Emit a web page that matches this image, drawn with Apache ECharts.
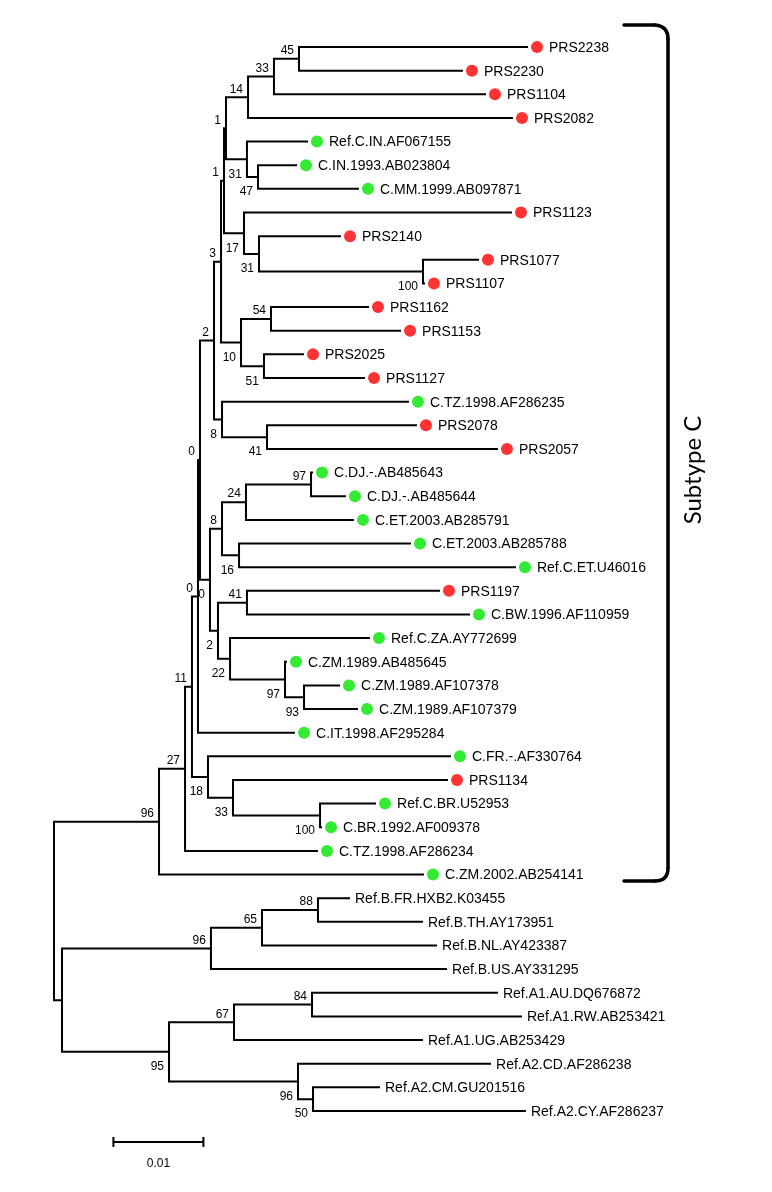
<!DOCTYPE html>
<html><head><meta charset="utf-8">
<script src="https://cdn.jsdelivr.net/npm/echarts@6/dist/echarts.min.js"></script>
<style>html,body{margin:0;padding:0;background:#fff}#c{width:772px;height:1192px}</style>
</head><body><div id="c"></div>
<script>
// ---- leaves (top to bottom) ----
const leafNames = [
 'PRS2238','PRS2230','PRS1104','PRS2082','Ref.C.IN.AF067155','C.IN.1993.AB023804','C.MM.1999.AB097871',
 'PRS1123','PRS2140','PRS1077','PRS1107','PRS1162','PRS1153','PRS2025','PRS1127','C.TZ.1998.AF286235',
 'PRS2078','PRS2057','C.DJ.-.AB485643','C.DJ.-.AB485644','C.ET.2003.AB285791','C.ET.2003.AB285788',
 'Ref.C.ET.U46016','PRS1197','C.BW.1996.AF110959','Ref.C.ZA.AY772699','C.ZM.1989.AB485645',
 'C.ZM.1989.AF107378','C.ZM.1989.AF107379','C.IT.1998.AF295284','C.FR.-.AF330764','PRS1134',
 'Ref.C.BR.U52953','C.BR.1992.AF009378','C.TZ.1998.AF286234','C.ZM.2002.AB254141',
 'Ref.B.FR.HXB2.K03455','Ref.B.TH.AY173951','Ref.B.NL.AY423387','Ref.B.US.AY331295',
 'Ref.A1.AU.DQ676872','Ref.A1.RW.AB253421','Ref.A1.UG.AB253429','Ref.A2.CD.AF286238',
 'Ref.A2.CM.GU201516','Ref.A2.CY.AF286237'
];
// distance from root (substitutions per site)
const leafDepth = [
 0.05267,0.04544,0.04800,0.05100,0.02822,0.02700,0.03389,
 0.05089,0.03189,0.04722,0.04122,0.03500,0.03856,0.02778,0.03456,0.03944,
 0.04033,0.04933,0.02878,0.03244,0.03333,0.03967,
 0.05133,0.04289,0.04622,0.03511,0.02589,
 0.03178,0.03378,0.02678,0.04411,0.04378,
 0.03578,0.02978,0.02933,0.04111,
 0.03289,0.04100,0.04256,0.04367,
 0.04933,0.05200,0.04100,0.04856,
 0.03622,0.05244
];
// P = study sample (red), C = subtype C reference (green), '' = no marker
const leafMarker = [
 'P','P','P','P','C','C','C','P','P','P','P','P','P','P','P','C','P','P','C','C','C','C','C','P','C','C','C',
 'C','C','C','C','P','C','C','C','C','','','','','','','','','',''
];
// ---- internal nodes (children listed before parents) ----
const nodeKids = [
 ['L0','L1'],['N0','L2'],['N1','L3'],['L5','L6'],['L4','N3'],['N2','N4'],['L9','L10'],['L8','N6'],
 ['L7','N7'],['N5','N8'],['L11','L12'],['L13','L14'],['N10','N11'],['N9','N12'],['L16','L17'],
 ['L15','N14'],['N13','N15'],['L18','L19'],['N17','L20'],['L21','L22'],['N18','N19'],['L23','L24'],
 ['L27','L28'],['L26','N22'],['L25','N23'],['N21','N24'],['N20','N25'],['N16','N26'],['N27','L29'],
 ['L32','L33'],['L31','N29'],['L30','N30'],['N28','N31'],['N32','L34'],['N33','L35'],
 ['L36','L37'],['N35','L38'],['N36','L39'],['L40','L41'],['N38','L42'],['L44','L45'],['L43','N40'],
 ['N39','N41'],['N37','N42'],['N34','N43']
];
const nodeDepth = [
 0.02722,0.02444,0.02156,0.02267,0.02144,0.01911,0.04100,0.02278,
 0.02111,0.01889,0.02411,0.02333,0.02078,0.01856,0.02367,
 0.01867,0.01778,0.02856,0.02133,0.02056,0.01867,0.02144,
 0.02778,0.02567,0.01956,0.01822,0.01733,0.01622,0.01600,
 0.02956,0.01989,0.01711,0.01533,0.01456,0.01167,
 0.02933,0.02311,0.01744,0.02867,0.02000,0.02878,0.02711,
 0.01278,0.00089,0
];
const nodeSupport = [
 45,33,14,47,31,1,100,31,17,1,54,51,10,3,41,8,2,97,24,16,8,41,93,97,22,2,0,0,0,
 100,33,18,11,27,96,88,65,96,84,67,50,96,95,null,null
];
const scaleBarLength = 0.01;
const scaleBarLabel = '0.01';
const bracketLabel = 'Subtype C';

// ---- layout derived from the tree ----
const nodePos = [];
function pos(ref){
  const i = +ref.slice(1);
  return ref[0] === 'L' ? {d: leafDepth[i], y: i} : nodePos[i];
}
const parentInfo = {};
nodeKids.forEach((kids, k) => {
  const a = pos(kids[0]), b = pos(kids[kids.length-1]);
  nodePos[k] = {d: nodeDepth[k], y: (a.y + b.y) / 2};
  kids.forEach((c, j) => { if (c[0] === 'N') parentInfo[+c.slice(1)] = (j === 0); });
});
const branchData = nodeKids.map((kids, k) => {
  const a = pos(kids[0]), b = pos(kids[1]), n = nodePos[k];
  return {coords: [[a.d, a.y], [n.d, a.y], [n.d, b.y], [b.d, b.y]]};
});
const supportItems = [];
nodeSupport.forEach((s, k) => {
  if (s === null) return;
  supportItems.push({d: nodePos[k].d, y: nodePos[k].y, text: String(s), upper: parentInfo[k] !== false});
});
const markerColor = {P: '#ff0000', C: '#00e600'};
const markerData = [];
leafNames.forEach((n, i) => {
  if (leafMarker[i]) markerData.push({value: [leafDepth[i], i], itemStyle: {color: markerColor[leafMarker[i]]}});
});

const chart = echarts.init(document.getElementById('c'), null, {renderer: 'canvas'});
const FONT = '"Liberation Sans", Arial, sans-serif';
const bracketStyle = {stroke: '#000', lineWidth: 3.5, lineCap: 'round', fill: null};
chart.setOption({
  animation: false,
  backgroundColor: '#fff',
  grid: {left: 54, top: 47, width: 630, height: 48 * 23.644},
  xAxis: {type: 'value', min: 0, max: 0.07, show: false},
  yAxis: {type: 'value', min: 0, max: 48, inverse: true, show: false},
  series: [
    {
      type: 'lines', coordinateSystem: 'cartesian2d', polyline: true, silent: true, clip: false,
      data: branchData,
      lineStyle: {color: '#000', width: 2, opacity: 1, join: 'miter', cap: 'butt'}
    },
    {
      type: 'scatter', silent: true, symbol: 'circle', symbolSize: 12, symbolOffset: [9, 0],
      data: markerData, z: 3
    },
    {
      type: 'custom', silent: true, clip: false,
      data: leafNames.map((n, i) => [leafDepth[i], i]),
      renderItem: (params, api) => {
        const i = params.dataIndex;
        const p = api.coord([api.value(0), api.value(1)]);
        return {type: 'text', x: p[0] + (leafMarker[i] ? 21 : 5), y: p[1] + 1,
          style: {text: leafNames[i], fill: '#000', font: '14px ' + FONT, align: 'left', verticalAlign: 'middle'}};
      }
    },
    {
      type: 'custom', silent: true, clip: false,
      data: supportItems.map(s => [s.d, s.y]),
      renderItem: (params, api) => {
        const s = supportItems[params.dataIndex];
        const p = api.coord([api.value(0), api.value(1)]);
        return {type: 'text', x: p[0] - 5, y: p[1] + (s.upper ? -8 : 15),
          style: {text: s.text, fill: '#000', font: '12px ' + FONT, align: 'right', verticalAlign: 'middle'}};
      }
    },
    {
      type: 'custom', silent: true, clip: false,
      data: [[0.0066, 46.31]],
      renderItem: (params, api) => {
        const a = api.coord([api.value(0), api.value(1)]);
        const b = api.coord([api.value(0) + scaleBarLength, api.value(1)]);
        const st = {stroke: '#000', lineWidth: 2};
        return {type: 'group', children: [
          {type: 'line', shape: {x1: a[0], y1: a[1], x2: b[0], y2: b[1]}, style: st},
          {type: 'line', shape: {x1: a[0], y1: a[1] - 5, x2: a[0], y2: a[1] + 5}, style: st},
          {type: 'line', shape: {x1: b[0], y1: b[1] - 5, x2: b[0], y2: b[1] + 5}, style: st},
          {type: 'text', x: (a[0] + b[0]) / 2, y: a[1] + 22,
            style: {text: scaleBarLabel, fill: '#000', font: '12px ' + FONT, align: 'center', verticalAlign: 'middle'}}
        ]};
      }
    }
  ],
  graphic: [
    {type: 'line', shape: {x1: 624, y1: 25, x2: 655, y2: 25}, style: bracketStyle},
    {type: 'bezierCurve', shape: {x1: 655, y1: 25, cpx1: 668, cpy1: 26, x2: 668, y2: 39}, style: bracketStyle},
    {type: 'line', shape: {x1: 668, y1: 39, x2: 668, y2: 868}, style: bracketStyle},
    {type: 'bezierCurve', shape: {x1: 668, y1: 868, cpx1: 668, cpy1: 881, x2: 655, y2: 881}, style: bracketStyle},
    {type: 'line', shape: {x1: 655, y1: 881, x2: 624, y2: 881}, style: bracketStyle},
    {type: 'text', x: 693, y: 470, rotation: Math.PI / 2,
     style: {text: bracketLabel, fill: '#000', font: '24px Lato, "Open Sans", sans-serif', align: 'center', verticalAlign: 'middle'}}
  ]
});
</script></body></html>
